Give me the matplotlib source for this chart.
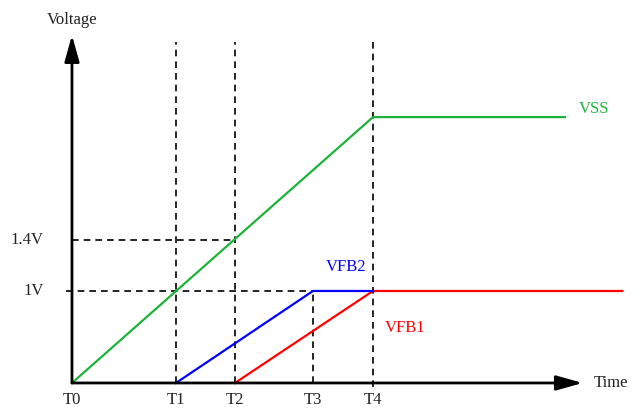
import matplotlib
matplotlib.use("Agg")
import matplotlib.pyplot as plt

# time marks (units of T1-T0) and voltage levels (schematic units, 1V = 1)
t_names = ["T0", "T1", "T2", "T3", "T4"]
t_vals = [0.0, 1.0, 1.567, 2.317, 2.894]
v_names = ["1V", "1.4V"]
v_vals = [1.0, 1.55]

# series: (time, level) breakpoints
vss_t = [0.0, 2.894, 4.74]
vss_v = [0.0, 2.89, 2.89]
vfb2_t = [1.0, 2.317, 2.894]
vfb2_v = [0.0, 1.0, 1.0]
vfb1_t = [1.567, 2.894, 5.29]
vfb1_v = [0.0, 1.0, 1.0]

GREEN, BLUE, RED = "#1db33a", "#0000ff", "#ff0000"
plt.rcParams["font.family"] = ["Liberation Serif", "DejaVu Serif"]

fig = plt.figure(figsize=(6.43, 4.08), dpi=100)
ax = fig.add_axes([0, 0, 1, 1])
ax.set_xlim(-0.692, 5.490)
ax.set_ylim(-0.272, 4.163)
ax.axis("off")

dash = dict(color="k", lw=1.2, ls=(0, (4, 3)))
top = 3.71
# vertical guides
ax.plot([t_vals[1]] * 2, [0, top], **dash)
ax.plot([t_vals[2]] * 2, [0, top], **dash)
ax.plot([t_vals[3]] * 2, [0, 1.0], **dash)
ax.plot([t_vals[4]] * 2, [-0.04, top], **dash)
# horizontal guides
ax.plot([-0.06, t_vals[3]], [v_vals[0]] * 2, **dash)
ax.plot([0, t_vals[2]], [v_vals[1]] * 2, **dash)

# series
ax.plot(vfb1_t, vfb1_v, color=RED, lw=1.6)
ax.plot(vfb2_t, vfb2_v, color=BLUE, lw=1.6)
ax.plot(vss_t, vss_v, color=GREEN, lw=1.6)

# axes with arrows
ax.annotate("", xy=(0, 3.78), xytext=(0, 0),
            arrowprops=dict(arrowstyle="-|>,head_length=1.6,head_width=0.45",
                            color="k", lw=2, shrinkA=0, shrinkB=0))
ax.annotate("", xy=(4.91, 0), xytext=(0, 0),
            arrowprops=dict(arrowstyle="-|>,head_length=1.6,head_width=0.45",
                            color="k", lw=2, shrinkA=0, shrinkB=0))

fs = 12
ax.text(0, 3.95, "Voltage", ha="center", va="center", fontsize=fs, color="#222222")
ax.text(5.02, 0, "Time", ha="left", va="center", fontsize=fs, color="#222222")
for name, t in zip(t_names, t_vals):
    ax.text(t, -0.19, name, ha="center", va="center", fontsize=fs, color="#222222")
for name, v in zip(v_names, v_vals):
    ax.text(-0.27, v, name, ha="right", va="center", fontsize=fs, color="#222222")

ax.text(4.87, 2.98, "VSS", ha="left", va="center", fontsize=fs, color=GREEN)
ax.text(2.44, 1.26, "VFB2", ha="left", va="center", fontsize=fs, color=BLUE)
ax.text(3.01, 0.6, "VFB1", ha="left", va="center", fontsize=fs, color=RED)

fig.savefig("out.png", dpi=100)
